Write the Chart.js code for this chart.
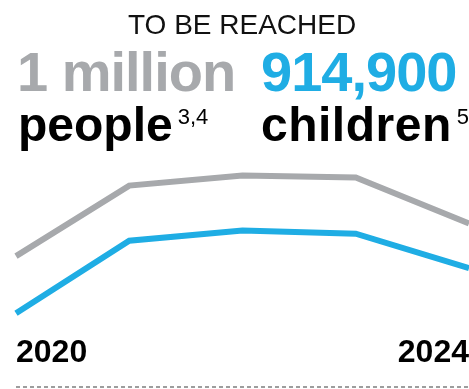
<!DOCTYPE html>
<html>
<head>
<meta charset="utf-8">
<script src="https://cdn.jsdelivr.net/npm/chart.js@4"></script>
<style>
  body { margin: 0; background: #fff; font-family: "Liberation Sans", Arial, sans-serif; }
  #wrap { position: relative; width: 469px; height: 389px; overflow: hidden; }
  #chartBox { position: absolute; left: 0; top: 0; width: 469px; height: 389px; }
  .txt { position: absolute; white-space: nowrap; line-height: 1; }
  .kicker { left: 128px; top: 11px; font-size: 28px; color: #111; }
  .big { top: 44px; font-size: 56px; font-weight: bold; letter-spacing: -1px; }
  .who { top: 101px; font-size: 48px; font-weight: bold; color: #000; }
  .who sup { font-size: 22px; font-weight: normal; vertical-align: 0; position: relative; top: -17px; margin-left: 5px; }
</style>
</head>
<body>
<div id="wrap">
  <div id="chartBox"><canvas id="reachChart"></canvas></div>
  <div class="txt kicker">TO BE REACHED</div>
  <div class="txt big" style="left:17px;color:#A7A9AC">1 million</div>
  <div class="txt big" style="left:261px;color:#1FADE4">914,900</div>
  <div class="txt who" style="left:18px">people<sup>3,4</sup></div>
  <div class="txt who" style="left:261px;letter-spacing:0.5px">children<sup>5</sup></div>
</div>
<script>
// years on the x axis (only first and last are labelled)
const years = ['2020', '2021', '2022', '2023', '2024'];
// trend index
const peopleTrend = [42.2, 80.6, 86.1, 85.0, 60.0];
const childrenTrend = [11.1, 50.6, 56.1, 54.4, 35.6];

const GREY = '#A7A9AC';
const BLUE = '#1FADE4';

// dashed rule under the year labels
const baseRule = {
    id: 'baseRule',
    afterDraw(chart) {
        const { ctx, chartArea } = chart;
        ctx.save();
        ctx.strokeStyle = '#7d7d7d';
        ctx.lineWidth = 1.5;
        ctx.setLineDash([4, 3]);
        ctx.beginPath();
        ctx.moveTo(chartArea.left, 387);
        ctx.lineTo(chart.width, 387);
        ctx.stroke();
        ctx.restore();
    }
};

function initReachChart() {
    const ctx = document.getElementById('reachChart');
    if (!ctx) return;

    new Chart(ctx.getContext('2d'), {
        type: 'line',
        data: {
            labels: years,
            datasets: [
                {
                    label: 'people',
                    data: peopleTrend,
                    borderColor: GREY,
                    borderWidth: 6,
                    pointRadius: 0,
                    tension: 0,
                    fill: false
                },
                {
                    label: 'children',
                    data: childrenTrend,
                    borderColor: BLUE,
                    borderWidth: 6,
                    pointRadius: 0,
                    tension: 0,
                    fill: false
                }
            ]
        },
        options: {
            responsive: true,
            maintainAspectRatio: false,
            animation: false,
            layout: { padding: { top: 150, left: 16, right: 0, bottom: 17 } },
            plugins: {
                legend: { display: false },
                title: { display: false },
                tooltip: { enabled: false }
            },
            scales: {
                x: {
                    offset: false,
                    grid: { display: false, drawTicks: false },
                    border: { display: false },
                    ticks: {
                        autoSkip: false,
                        maxRotation: 0,
                        align: 'inner',
                        padding: 0,
                        color: '#000',
                        font: { family: '"Liberation Sans", Arial, sans-serif', size: 32, weight: 'bold' },
                        callback: (v, i) => (i === 0 || i === years.length - 1) ? years[i] : ''
                    }
                },
                y: {
                    display: false,
                    min: 0,
                    max: 100
                }
            }
        },
        plugins: [baseRule]
    });
}

document.addEventListener('DOMContentLoaded', initReachChart);
</script>
</body>
</html>
